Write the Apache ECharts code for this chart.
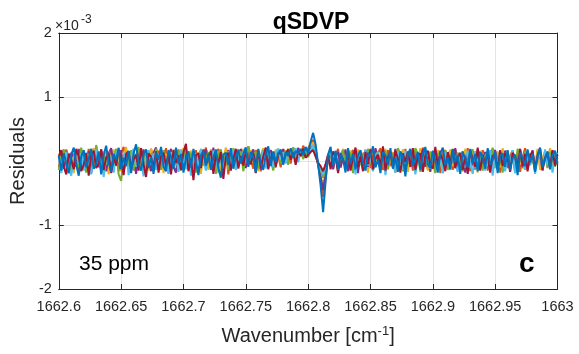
<!DOCTYPE html>
<html>
<head>
<meta charset="utf-8">
<title>qSDVP residuals</title>
<script src="https://cdn.jsdelivr.net/npm/echarts@6/dist/echarts.min.js"></script>
<style>
  html, body { margin: 0; padding: 0; background: #ffffff; }
  #chart { width: 579px; height: 354px; }
</style>
</head>
<body>
<div id="chart"></div>
<script>
// Spectral sampling: wavenumber grid (cm^-1)
const wnStart = 1662.6;
const wnStep = 0.002;

// Axis ticks
const xTicks = [1662.6, 1662.65, 1662.7, 1662.75, 1662.8, 1662.85, 1662.9, 1662.95, 1663];
const yTickLabels = [-2, -1, 1, 2];

// Fit residuals per spectrum, in units of 1e-3
const resBlue = [
  0.08, -0.15, 0.12, -0.04, -0.19, 0.10, 0.21, -0.06, -0.23, 0.07,
  0.17, -0.10, 0.04, 0.19, -0.12, -0.05, 0.15, -0.21, 0.09, 0.24,
  -0.03, -0.17, 0.11, 0.01, 0.20, -0.13, 0.05, -0.08, 0.16, -0.19,
  0.12, 0.26, -0.04, -0.15, 0.10, 0.18, -0.11, 0.06, -0.20, 0.13,
  0.02, 0.22, -0.09, -0.16, 0.17, 0.07, -0.12, 0.21, -0.05, 0.11,
  -0.18, 0.04, 0.15, -0.10, 0.19, -0.02, -0.22, 0.09, 0.16, -0.07,
  0.12, -0.14, 0.05, 0.18, -0.11, -0.26, 0.10, 0.13, -0.06, 0.20,
  -0.12, 0.07, 0.17, -0.04, 0.11, 0.21, -0.09, 0.14, 0.06, -0.18,
  0.19, -0.03, -0.14, 0.10, 0.23, -0.08, 0.15, -0.02, 0.12, 0.18,
  -0.06, 0.14, 0.08, 0.20, 0.05, 0.16, 0.11, 0.19, 0.09, 0.22,
  0.12, 0.30, 0.44, 0.26, -0.05, -0.38, -0.80, -0.32, 0.10, 0.22,
  -0.07, 0.16, -0.14, 0.10, 0.03, -0.18, 0.20, -0.05, 0.12, -0.13,
  0.08, 0.17, -0.03, -0.15, 0.13, 0.06, 0.23, -0.10, 0.02, -0.19,
  0.14, 0.09, -0.06, 0.20, -0.12, 0.05, -0.17, 0.15, 0.07, -0.24,
  0.11, 0.19, -0.08, 0.03, 0.14, -0.14, 0.08, 0.22, -0.05, -0.11,
  0.16, 0.01, -0.18, 0.12, 0.21, -0.07, 0.06, -0.13, 0.18, -0.02,
  0.09, -0.20, 0.13, 0.05, -0.10, 0.19, -0.04, 0.11, -0.16, 0.14,
  0.07, -0.12, 0.20, -0.06, 0.02, 0.15, -0.19, 0.08, 0.12, -0.09,
  0.17, -0.14, 0.04, 0.10, -0.22, 0.13, 0.06, -0.08, 0.18, -0.03,
  0.11, -0.17, 0.07, 0.21, -0.10, 0.03, 0.15, -0.13, 0.09, 0.16,
  -0.04
];
const resOrange = [
  -0.10, 0.14, -0.04, 0.18, 0.05, -0.13, 0.09, 0.16, -0.17, 0.03,
  0.11, -0.08, 0.19, -0.14, 0.06, 0.21, -0.03, 0.10, -0.19, 0.13,
  0.04, 0.17, -0.11, 0.07, -0.16, 0.12, 0.22, -0.05, 0.01, 0.15,
  -0.15, 0.09, 0.18, -0.06, -0.20, 0.11, 0.03, 0.19, -0.10, 0.05,
  0.16, -0.12, 0.07, 0.20, -0.04, -0.17, 0.13, 0.02, 0.18, -0.09,
  0.10, 0.15, -0.14, 0.06, -0.02, 0.17, -0.18, 0.11, 0.04, 0.21,
  -0.07, 0.13, -0.16, 0.08, 0.19, 0.01, -0.11, 0.16, -0.21, 0.07,
  0.12, -0.05, 0.18, 0.09, -0.09, 0.14, 0.23, 0.03, -0.12, 0.17,
  0.05, -0.16, 0.11, 0.20, -0.07, 0.13, -0.02, 0.16, 0.08, -0.10,
  0.19, 0.06, 0.14, -0.04, 0.21, 0.10, 0.17, 0.07, 0.24, 0.13,
  0.20, 0.28, 0.33, 0.18, -0.06, -0.30, -0.56, -0.27, 0.04, 0.14,
  -0.12, 0.08, 0.19, -0.10, 0.13, 0.02, -0.16, 0.11, 0.17, -0.06,
  0.14, 0.05, -0.13, 0.16, 0.07, -0.11, 0.18, -0.04, 0.12, 0.20,
  -0.14, 0.03, 0.17, -0.08, 0.11, -0.18, 0.13, 0.06, -0.05, 0.19,
  -0.12, 0.10, -0.15, 0.14, 0.04, -0.07, 0.21, 0.08, -0.13, 0.05,
  0.15, -0.10, 0.07, -0.19, 0.12, 0.17, -0.03, 0.11, -0.14, 0.18,
  0.01, 0.13, -0.08, 0.06, 0.20, -0.16, 0.09, 0.14, -0.06, -0.12,
  0.17, 0.04, -0.15, 0.10, 0.19, -0.07, 0.13, -0.18, 0.05, 0.15,
  -0.11, 0.08, 0.16, -0.04, 0.12, -0.17, 0.06, 0.20, -0.09, 0.11,
  0.03, -0.14, 0.17, 0.07, -0.10, 0.14, -0.06, 0.18, -0.12, 0.09,
  0.06
];
const resYellow = [
  0.12, -0.06, 0.17, -0.14, 0.04, 0.10, -0.19, 0.13, 0.06, -0.11,
  0.16, 0.02, -0.17, 0.11, 0.20, -0.07, 0.05, -0.13, 0.15, 0.08,
  -0.21, 0.06, 0.18, -0.04, 0.12, -0.16, 0.07, 0.22, -0.10, 0.03,
  0.13, -0.18, 0.10, 0.17, -0.05, 0.04, -0.15, 0.19, 0.11, -0.08,
  -0.02, 0.15, -0.19, 0.08, 0.12, -0.11, 0.18, -0.06, -0.16, 0.10,
  0.20, -0.05, 0.07, 0.16, -0.12, 0.02, 0.13, -0.20, 0.09, 0.05,
  -0.14, 0.18, 0.08, -0.07, 0.15, -0.17, 0.04, 0.21, -0.10, 0.12,
  0.06, -0.13, 0.16, 0.01, 0.19, -0.06, 0.11, 0.17, -0.03, 0.13,
  -0.16, 0.09, 0.20, -0.08, 0.14, 0.04, -0.12, 0.18, 0.07, 0.15,
  -0.05, 0.12, 0.19, 0.08, 0.16, 0.02, 0.21, 0.10, 0.14, 0.18,
  0.09, 0.22, 0.29, 0.12, -0.04, -0.22, -0.40, -0.18, 0.07, 0.17,
  -0.09, 0.12, -0.16, 0.05, 0.19, -0.08, 0.11, 0.16, -0.12, 0.03,
  0.18, -0.07, 0.13, 0.06, -0.18, 0.10, 0.17, -0.04, 0.12, -0.14,
  0.07, 0.19, -0.10, 0.04, 0.14, -0.13, 0.08, -0.05, 0.18, 0.11,
  -0.17, 0.06, 0.15, -0.11, 0.02, 0.20, -0.07, 0.10, -0.15, 0.13,
  0.05, -0.12, 0.17, 0.07, -0.19, 0.11, 0.04, 0.18, -0.08, 0.14,
  -0.03, 0.10, -0.14, 0.19, 0.05, -0.10, 0.13, 0.08, -0.18, 0.16,
  0.01, 0.12, -0.07, 0.17, -0.13, 0.06, 0.15, -0.10, 0.20, -0.05,
  0.11, -0.16, 0.14, 0.03, -0.08, 0.18, -0.12, 0.07, 0.16, -0.04,
  0.13, -0.09, 0.19, -0.14, 0.06, 0.15, -0.10, 0.20, -0.05, 0.11,
  -0.02
];
const resPurple = [
  0.03, 0.16, -0.12, 0.07, -0.18, 0.13, 0.05, -0.09, 0.19, -0.14,
  0.10, -0.04, 0.15, -0.19, 0.06, 0.12, -0.10, 0.18, -0.02, -0.16,
  0.11, 0.20, -0.06, 0.04, -0.13, 0.17, -0.17, 0.08, 0.15, -0.07,
  0.05, -0.20, 0.12, 0.01, 0.18, -0.11, 0.07, -0.16, 0.13, 0.21,
  -0.05, 0.10, 0.16, -0.14, 0.02, 0.19, -0.09, -0.18, 0.11, 0.06,
  -0.12, 0.17, 0.04, -0.07, 0.15, 0.08, -0.16, 0.12, -0.04, 0.18,
  0.06, -0.11, 0.21, -0.17, 0.07, 0.13, -0.06, 0.02, 0.17, -0.13,
  0.10, 0.16, -0.08, 0.19, 0.04, -0.11, 0.14, 0.08, 0.18, -0.04,
  0.15, -0.13, 0.06, 0.12, -0.07, 0.17, 0.03, -0.10, 0.14, 0.09,
  0.18, -0.02, 0.13, 0.07, 0.16, 0.04, 0.20, 0.09, 0.12, 0.17,
  0.11, 0.19, 0.24, 0.10, -0.06, -0.24, -0.45, -0.20, 0.04, 0.15,
  -0.13, 0.07, 0.14, -0.10, 0.05, 0.18, -0.15, 0.09, -0.02, 0.13,
  -0.19, 0.11, 0.04, 0.17, -0.09, 0.06, -0.14, 0.20, 0.02, -0.07,
  0.13, -0.16, 0.08, 0.14, -0.03, 0.19, -0.12, 0.05, 0.11, -0.15,
  0.07, 0.17, -0.06, -0.13, 0.12, 0.03, 0.19, -0.09, 0.08, -0.17,
  0.14, 0.06, -0.04, 0.16, -0.14, 0.10, 0.13, -0.07, 0.02, 0.20,
  -0.11, 0.05, 0.15, -0.18, 0.08, 0.12, -0.05, -0.13, 0.18, 0.07,
  -0.09, 0.14, 0.02, -0.15, 0.11, 0.17, -0.08, 0.06, -0.12, 0.16,
  0.09, -0.04, 0.13, -0.17, 0.05, 0.19, -0.10, 0.08, 0.14, -0.06,
  0.17, -0.12, 0.04, 0.10, -0.15, 0.13, 0.07, -0.09, 0.16, 0.03,
  -0.06
];
const resGreen = [
  -0.14, 0.08, 0.18, -0.05, 0.12, -0.17, 0.03, 0.14, -0.10, 0.21,
  -0.02, -0.18, 0.11, 0.06, -0.12, 0.25, 0.05, -0.15, 0.09, -0.06,
  0.15, -0.10, 0.02, 0.19, -0.21, -0.31, 0.08, 0.13, -0.07, 0.17,
  -0.13, 0.06, 0.22, -0.08, 0.11, -0.17, 0.14, 0.03, -0.11, 0.19,
  0.07, -0.14, 0.17, 0.01, -0.19, 0.12, 0.08, -0.06, 0.16, -0.15,
  0.05, 0.21, -0.11, 0.13, -0.03, -0.18, 0.10, 0.17, -0.07, 0.02,
  0.14, -0.13, 0.07, -0.20, 0.11, 0.18, -0.05, 0.12, -0.14, 0.06,
  0.20, -0.09, 0.03, 0.15, -0.16, 0.08, 0.23, -0.02, 0.10, 0.14,
  -0.12, 0.06, 0.17, -0.09, 0.13, 0.02, -0.15, 0.11, 0.19, -0.04,
  0.08, 0.16, -0.06, 0.14, 0.21, 0.05, 0.12, 0.18, 0.03, 0.15,
  0.06, 0.17, 0.21, 0.09, -0.04, -0.14, -0.26, -0.10, 0.08, 0.13,
  -0.06, 0.14, -0.15, 0.09, 0.17, -0.07, 0.03, 0.13, -0.19, 0.08,
  0.15, -0.05, 0.11, -0.11, 0.19, 0.04, -0.15, 0.10, 0.14, -0.08,
  0.02, 0.16, -0.13, 0.07, 0.12, -0.05, 0.20, 0.10, -0.16, 0.06,
  0.13, -0.09, -0.04, 0.20, 0.11, -0.17, 0.06, 0.13, -0.10, 0.15,
  0.01, -0.19, 0.12, 0.08, -0.06, 0.17, -0.14, 0.04, 0.19, -0.11,
  0.13, 0.03, -0.16, 0.09, -0.07, 0.14, 0.18, -0.12, 0.06, 0.11,
  -0.15, 0.08, 0.15, -0.05, 0.21, -0.11, 0.02, 0.13, -0.18, 0.07,
  0.16, -0.08, 0.10, -0.14, 0.19, 0.03, -0.06, 0.15, -0.13, 0.09,
  0.05, -0.16, 0.12, 0.18, -0.07, 0.10, -0.11, 0.14, 0.02, -0.09,
  0.05
];
const resLightBlue = [
  0.09, -0.19, 0.05, 0.14, -0.11, -0.23, 0.07, 0.17, -0.04, 0.11,
  -0.15, 0.13, 0.02, -0.21, 0.08, 0.18, -0.07, 0.12, -0.25, 0.05,
  0.14, -0.05, -0.18, 0.10, 0.21, -0.12, 0.03, 0.15, -0.22, 0.07,
  0.19, -0.09, 0.01, 0.13, -0.24, 0.08, 0.17, -0.06, 0.12, -0.14,
  0.03, 0.20, -0.10, 0.06, -0.20, 0.14, -0.02, 0.09, -0.17, 0.18,
  0.07, -0.13, 0.15, -0.23, 0.05, 0.12, -0.08, 0.19, 0.02, -0.15,
  0.11, -0.05, 0.16, 0.08, -0.19, 0.13, -0.12, 0.06, 0.15, -0.09,
  0.18, -0.14, 0.07, -0.03, 0.14, 0.21, -0.08, 0.12, 0.05, -0.17,
  0.10, -0.06, 0.16, -0.12, 0.20, 0.04, -0.09, 0.13, 0.19, 0.02,
  0.14, -0.04, 0.11, 0.17, 0.06, 0.20, -0.02, 0.15, 0.10, 0.18,
  0.12, 0.16, 0.25, 0.11, -0.02, -0.12, -0.21, -0.07, 0.10, 0.14,
  -0.04, 0.09, -0.17, 0.13, 0.05, -0.12, 0.16, -0.06, 0.10, -0.21,
  0.15, 0.03, -0.14, 0.18, -0.07, 0.09, -0.16, 0.04, 0.14, -0.11,
  0.17, -0.22, 0.07, 0.11, -0.05, -0.18, 0.15, 0.03, -0.13, 0.16,
  0.08, -0.07, 0.12, -0.21, 0.06, 0.10, -0.15, 0.18, -0.04, -0.12,
  0.09, 0.15, -0.08, 0.04, -0.19, 0.14, 0.07, -0.14, 0.11, -0.05,
  -0.17, 0.13, 0.06, -0.10, 0.16, -0.04, -0.20, 0.15, 0.03, -0.09,
  0.12, -0.15, 0.08, 0.17, -0.23, 0.10, -0.07, 0.11, 0.05, -0.16,
  0.09, -0.04, 0.17, -0.19, -0.09, 0.12, 0.06, -0.14, 0.13, -0.07,
  0.15, -0.20, 0.04, 0.11, -0.13, 0.18, -0.06, 0.09, -0.18, 0.10,
  0.13
];
const resDarkRed = [
  0.06, 0.17, -0.09, -0.21, 0.11, 0.02, -0.13, 0.19, 0.07, -0.16,
  -0.06, 0.12, -0.23, 0.09, 0.16, -0.11, -0.04, 0.18, -0.14, 0.05,
  0.13, -0.19, 0.08, -0.07, 0.17, 0.04, -0.22, 0.11, 0.15, -0.12,
  0.02, 0.10, -0.15, 0.20, -0.05, -0.25, 0.12, 0.06, -0.10, 0.15,
  -0.18, 0.07, 0.13, -0.08, 0.11, -0.21, 0.17, -0.03, 0.09, -0.14,
  0.14, 0.27, -0.16, 0.04, -0.30, 0.09, 0.12, -0.11, 0.18, -0.06,
  0.05, 0.16, -0.20, 0.11, -0.04, 0.14, -0.28, 0.07, 0.13, -0.15,
  0.03, 0.19, -0.12, 0.08, -0.07, 0.15, 0.02, -0.05, 0.12, -0.19,
  0.17, -0.10, 0.07, 0.21, -0.13, 0.04, 0.14, -0.08, 0.10, 0.16,
  -0.03, 0.11, 0.18, 0.02, 0.13, -0.06, 0.15, 0.08, 0.19, 0.05,
  0.10, 0.14, 0.17, 0.07, -0.03, -0.08, -0.16, -0.05, 0.10, -0.13,
  0.15, 0.07, -0.19, 0.12, 0.02, -0.09, 0.16, -0.15, 0.06, 0.21,
  -0.10, 0.08, -0.16, 0.14, -0.05, 0.19, -0.13, 0.03, 0.10, -0.08,
  0.23, -0.15, 0.06, 0.13, -0.11, 0.16, 0.04, -0.18, 0.12, -0.02,
  0.15, -0.09, 0.20, -0.14, 0.07, 0.12, -0.17, 0.09, 0.16, -0.06,
  -0.12, 0.22, -0.07, 0.10, 0.02, -0.16, 0.14, -0.04, 0.18, -0.11,
  0.06, 0.12, -0.14, 0.08, -0.20, 0.16, 0.03, -0.09, 0.21, -0.15,
  0.10, -0.05, 0.14, -0.18, 0.09, 0.06, -0.13, 0.17, -0.08, 0.12,
  0.04, -0.17, 0.13, 0.07, -0.11, 0.18, -0.08, 0.11, -0.16, 0.09,
  0.15, -0.12, 0.08, 0.20, -0.14, 0.05, 0.13, -0.10, 0.17, -0.07,
  0.10
];

// Drawing order: later entries are painted on top
const traces = [
  { name: 'orange',    values: resOrange,    color: '#D95319' },
  { name: 'yellow',    values: resYellow,    color: '#EDB120' },
  { name: 'purple',    values: resPurple,    color: '#7E2F8E' },
  { name: 'green',     values: resGreen,     color: '#77AC30' },
  { name: 'lightblue', values: resLightBlue, color: '#4DBEEE' },
  { name: 'darkred',   values: resDarkRed,   color: '#A2142F' },
  { name: 'blue',      values: resBlue,      color: '#0072BD' }
];

const FONT = "'Liberation Sans', Arial, Helvetica, sans-serif";
const INK = '#262626';
const GRIDC = '#e4e4e4';

const xMin = xTicks[0], xMax = xTicks[xTicks.length - 1];
const xInterval = 0.05;
const yMin = -2, yMax = 2, yInterval = 1;

function fmtX(v) { return String(parseFloat(v.toFixed(3))); }
function fmtY(v) {
  const r = Math.round(v);
  return yTickLabels.indexOf(r) >= 0 ? String(r) : '';
}

const chart = echarts.init(document.getElementById('chart'), null, { renderer: 'canvas' });

const series = traces.map(t => ({
  name: t.name,
  type: 'line',
  xAxisIndex: 0,
  yAxisIndex: 0,
  showSymbol: false,
  symbol: 'none',
  smooth: false,
  lineStyle: { color: t.color, width: 2 },
  itemStyle: { color: t.color },
  emphasis: { disabled: true },
  data: t.values.map((v, i) => [wnStart + i * wnStep, v])
}));

// Box frame: all four axis lines stay on the plot edges
const edgeLine = { show: true, onZero: false, lineStyle: { color: INK, width: 1 } };
const inTick = { show: true, inside: true, length: 5, lineStyle: { color: INK } };

const option = {
  animation: false,
  backgroundColor: '#ffffff',
  title: {
    text: 'qSDVP',
    left: 306,
    textAlign: 'center',
    top: 6,
    textStyle: { fontFamily: FONT, fontWeight: 'bold', fontSize: 23, color: '#000000' }
  },
  grid: { left: 54.5, right: 21.5, top: 33, bottom: 65, containLabel: false },
  xAxis: [
    {
      type: 'value', position: 'bottom',
      min: xMin, max: xMax, interval: xInterval,
      axisLine: edgeLine,
      axisTick: inTick,
      axisLabel: { show: true, margin: 10, formatter: fmtX, color: INK, fontFamily: FONT, fontSize: 14.5 },
      splitLine: { show: true, lineStyle: { color: GRIDC, width: 1 } },
      name: 'Wavenumber [cm{s|-1}]',
      nameLocation: 'middle',
      nameGap: 36,
      nameTextStyle: {
        fontFamily: FONT, fontSize: 20, color: INK,
        rich: { s: { fontFamily: FONT, fontSize: 13, color: INK, verticalAlign: 'top', padding: [0, 0, 10, 0] } }
      }
    },
    {
      type: 'value', position: 'top',
      min: xMin, max: xMax, interval: xInterval,
      axisLine: edgeLine,
      axisTick: inTick,
      axisLabel: { show: false },
      splitLine: { show: false }
    }
  ],
  yAxis: [
    {
      type: 'value', position: 'left',
      min: yMin, max: yMax, interval: yInterval,
      axisLine: edgeLine,
      axisTick: inTick,
      axisLabel: { show: true, margin: 7, formatter: fmtY, color: INK, fontFamily: FONT, fontSize: 14.5 },
      splitLine: { show: true, lineStyle: { color: GRIDC, width: 1 } },
      name: 'Residuals',
      nameLocation: 'middle',
      nameGap: 27,
      nameTextStyle: { fontFamily: FONT, fontSize: 20, color: INK }
    },
    {
      type: 'value', position: 'right',
      min: yMin, max: yMax, interval: yInterval,
      axisLine: edgeLine,
      axisTick: inTick,
      axisLabel: { show: false },
      splitLine: { show: false }
    }
  ],
  graphic: [
    {
      type: 'text', left: 55, top: 19, z: 10,
      style: { text: '×10', fontFamily: FONT, fontSize: 14, fill: INK }
    },
    {
      type: 'text', left: 81, top: 14, z: 10,
      style: { text: '-3', fontFamily: FONT, fontSize: 12, fill: INK }
    },
    {
      type: 'text', left: 79, top: 254, z: 10,
      style: { text: '35 ppm', fontFamily: FONT, fontSize: 21, fill: '#000000' }
    },
    {
      type: 'text', left: 519, top: 250, z: 10,
      style: { text: 'c', fontFamily: FONT, fontSize: 28, fontWeight: 'bold', fill: '#000000' }
    }
  ],
  series: series
};

chart.setOption(option);
</script>
</body>
</html>
